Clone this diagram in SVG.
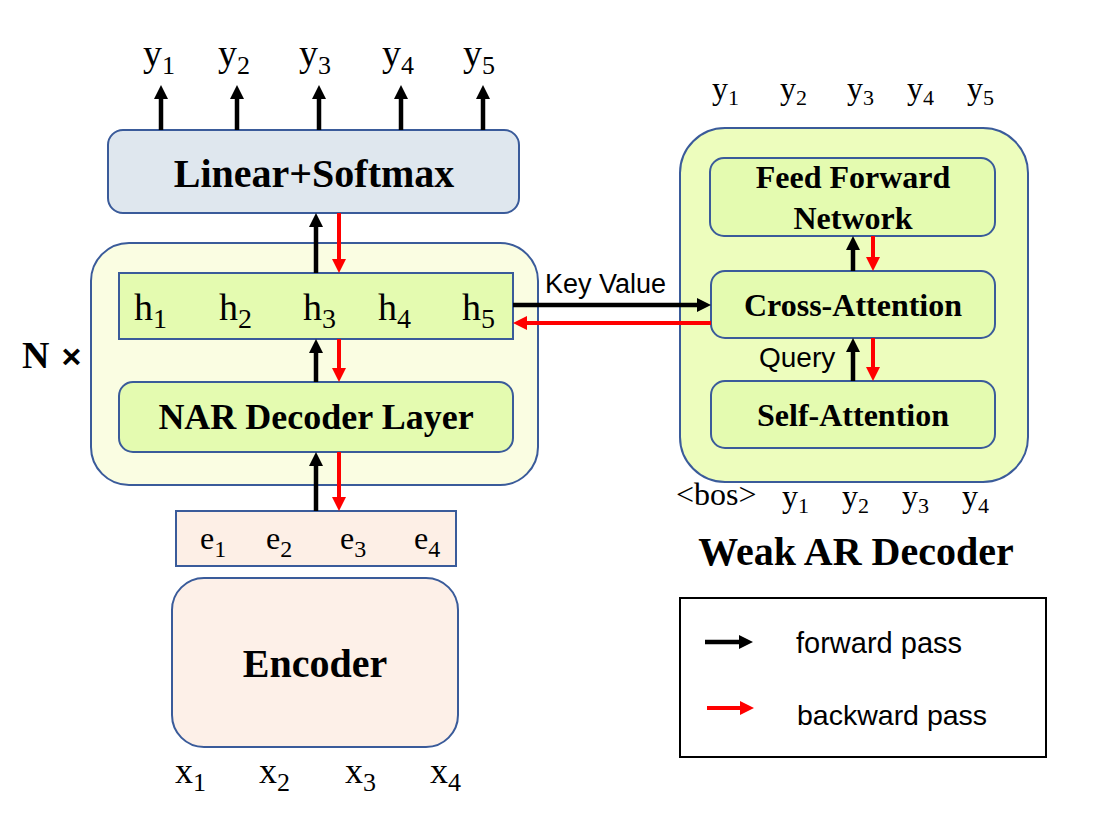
<svg xmlns="http://www.w3.org/2000/svg" width="1100" height="832" viewBox="0 0 1100 832">
<style>
.box{stroke:#3a5b9a;stroke-width:2}
.serif{font-family:"Liberation Serif","Times New Roman",serif;fill:#000}
.bold{font-family:"Liberation Serif","Times New Roman",serif;font-weight:bold;fill:#000;text-anchor:middle}
.sans{font-family:"Liberation Sans",Arial,sans-serif;fill:#000}
.fw{stroke:#000;stroke-width:4.5;fill:none}
.bw{stroke:#f00;stroke-width:4;fill:none}
</style>
<defs>
<marker id="ahK" markerUnits="userSpaceOnUse" viewBox="0 0 14 14" markerWidth="14" markerHeight="14" refX="1" refY="7" orient="auto"><path d="M0,0 L14,7 L0,14 z" fill="#000"/></marker>
<marker id="ahR" markerUnits="userSpaceOnUse" viewBox="0 0 14 14" markerWidth="14" markerHeight="14" refX="1" refY="7" orient="auto"><path d="M0,0 L14,7 L0,14 z" fill="#f00"/></marker>
</defs>
<rect width="1100" height="832" fill="#fff"/>

<g id="nar-stack">
<rect class="box" x="91" y="243" width="447" height="242" rx="38" fill="#fafde2"/>
</g>
<g id="linear-softmax">
<rect class="box" x="108" y="130" width="411" height="83" rx="15" fill="#dfe7ee"/>
<text class="bold" x="314" y="187" font-size="40">Linear+Softmax</text>
</g>
<g id="hidden-states">
<rect class="box" x="119" y="273" width="394" height="66" fill="#e4fbb0"/>
<text class="serif" x="134" y="320" font-size="38">h<tspan dy="8" font-size="28">1</tspan></text>
<text class="serif" x="219" y="320" font-size="38">h<tspan dy="8" font-size="28">2</tspan></text>
<text class="serif" x="303" y="320" font-size="38">h<tspan dy="8" font-size="28">3</tspan></text>
<text class="serif" x="378" y="320" font-size="38">h<tspan dy="8" font-size="28">4</tspan></text>
<text class="serif" x="462" y="320" font-size="38">h<tspan dy="8" font-size="28">5</tspan></text>
</g>
<g id="nar-decoder-layer">
<rect class="box" x="119" y="382" width="394" height="70" rx="14" fill="#e4fbb0"/>
<text class="bold" x="316" y="429" font-size="36">NAR Decoder Layer</text>
</g>
<g id="n-times">
<text x="22" y="368"><tspan class="serif" font-weight="bold" font-size="38">N</tspan><tspan class="sans" font-weight="bold" font-size="34" dx="12">×</tspan></text>
</g>
<g id="embeddings">
<rect class="box" x="176" y="511" width="280" height="55" fill="#fdefe6"/>
<text class="serif" x="200" y="549" font-size="32">e<tspan dy="8" font-size="24">1</tspan></text>
<text class="serif" x="266" y="549" font-size="32">e<tspan dy="8" font-size="24">2</tspan></text>
<text class="serif" x="340" y="549" font-size="32">e<tspan dy="8" font-size="24">3</tspan></text>
<text class="serif" x="414" y="549" font-size="32">e<tspan dy="8" font-size="24">4</tspan></text>
</g>
<g id="encoder">
<rect class="box" x="172" y="578" width="286" height="169" rx="32" fill="#fdf0e8"/>
<text class="bold" x="315" y="677" font-size="40">Encoder</text>
</g>
<g id="outputs">
<text class="serif" x="143" y="66" font-size="38">y<tspan dy="8" font-size="26">1</tspan></text>
<text class="serif" x="218" y="66" font-size="38">y<tspan dy="8" font-size="26">2</tspan></text>
<text class="serif" x="299" y="66" font-size="38">y<tspan dy="8" font-size="26">3</tspan></text>
<text class="serif" x="382" y="66" font-size="38">y<tspan dy="8" font-size="26">4</tspan></text>
<text class="serif" x="463" y="66" font-size="38">y<tspan dy="8" font-size="26">5</tspan></text>
</g>
<g id="inputs">
<text class="serif" x="175" y="783" font-size="36">x<tspan dy="8" font-size="26">1</tspan></text>
<text class="serif" x="259" y="783" font-size="36">x<tspan dy="8" font-size="26">2</tspan></text>
<text class="serif" x="345" y="783" font-size="36">x<tspan dy="8" font-size="26">3</tspan></text>
<text class="serif" x="430" y="783" font-size="36">x<tspan dy="8" font-size="26">4</tspan></text>
</g>

<g id="weak-ar-decoder">
<rect class="box" x="680" y="128" width="348" height="354" rx="45" fill="#edfdbd"/>
<text class="bold" x="856" y="565" font-size="40">Weak AR Decoder</text>
</g>
<g id="feed-forward">
<rect class="box" x="710" y="158" width="285" height="78" rx="14" fill="#e4fbb0"/>
<text class="bold" x="853" y="188" font-size="32">Feed Forward</text>
<text class="bold" x="853" y="229" font-size="32">Network</text>
</g>
<g id="cross-attention">
<rect class="box" x="711" y="271" width="284" height="67" rx="14" fill="#e4fbb0"/>
<text class="bold" x="853" y="316" font-size="32">Cross-Attention</text>
</g>
<g id="self-attention">
<rect class="box" x="711" y="381" width="284" height="67" rx="14" fill="#e4fbb0"/>
<text class="bold" x="853" y="426" font-size="32">Self-Attention</text>
</g>
<g id="ar-outputs">
<text class="serif" x="712" y="99" font-size="32">y<tspan dy="6" font-size="22">1</tspan></text>
<text class="serif" x="780" y="99" font-size="32">y<tspan dy="6" font-size="22">2</tspan></text>
<text class="serif" x="847" y="99" font-size="32">y<tspan dy="6" font-size="22">3</tspan></text>
<text class="serif" x="907" y="99" font-size="32">y<tspan dy="6" font-size="22">4</tspan></text>
<text class="serif" x="967" y="99" font-size="32">y<tspan dy="6" font-size="22">5</tspan></text>
</g>
<g id="ar-inputs">
<text class="serif" x="676" y="505" font-size="32">&lt;bos&gt;</text>
<text class="serif" x="782" y="507" font-size="32">y<tspan dy="6" font-size="22">1</tspan></text>
<text class="serif" x="842" y="507" font-size="32">y<tspan dy="6" font-size="22">2</tspan></text>
<text class="serif" x="902" y="507" font-size="32">y<tspan dy="6" font-size="22">3</tspan></text>
<text class="serif" x="962" y="507" font-size="32">y<tspan dy="6" font-size="22">4</tspan></text>
</g>

<g id="connectors">
<line class="fw" x1="161" y1="130" x2="161" y2="98" marker-end="url(#ahK)"/>
<line class="fw" x1="237" y1="130" x2="237" y2="98" marker-end="url(#ahK)"/>
<line class="fw" x1="319" y1="130" x2="319" y2="98" marker-end="url(#ahK)"/>
<line class="fw" x1="401" y1="130" x2="401" y2="98" marker-end="url(#ahK)"/>
<line class="fw" x1="483" y1="130" x2="483" y2="98" marker-end="url(#ahK)"/>

<line class="fw" x1="316" y1="273" x2="316" y2="226" marker-end="url(#ahK)"/>
<line class="bw" x1="339" y1="213" x2="339" y2="260" marker-end="url(#ahR)"/>
<line class="fw" x1="316" y1="382" x2="316" y2="352" marker-end="url(#ahK)"/>
<line class="bw" x1="339" y1="339" x2="339" y2="369" marker-end="url(#ahR)"/>
<line class="fw" x1="316" y1="511" x2="316" y2="465" marker-end="url(#ahK)"/>
<line class="bw" x1="339" y1="452" x2="339" y2="498" marker-end="url(#ahR)"/>

<line class="fw" x1="513" y1="305" x2="698" y2="305" marker-end="url(#ahK)"/>
<line class="bw" x1="711" y1="323" x2="526" y2="323" marker-end="url(#ahR)"/>
<text class="sans" x="545" y="293" font-size="27">Key Value</text>

<line class="fw" x1="853" y1="271" x2="853" y2="249" marker-end="url(#ahK)"/>
<line class="bw" x1="873" y1="236" x2="873" y2="258" marker-end="url(#ahR)"/>
<line class="fw" x1="853" y1="381" x2="853" y2="351" marker-end="url(#ahK)"/>
<line class="bw" x1="873" y1="338" x2="873" y2="368" marker-end="url(#ahR)"/>
<text class="sans" x="759" y="367" font-size="28">Query</text>
</g>

<g id="legend">
<rect x="680" y="598" width="366" height="159" fill="#fff" stroke="#000" stroke-width="2"/>
<line class="fw" x1="705" y1="642" x2="740" y2="642" stroke-width="3.5" marker-end="url(#ahK)"/>
<line class="bw" x1="707" y1="708" x2="741" y2="708" stroke-width="3.5" marker-end="url(#ahR)"/>
<text class="sans" x="796" y="653" font-size="29">forward pass</text>
<text class="sans" x="797" y="725" font-size="28.5">backward pass</text>
</g>
</svg>
